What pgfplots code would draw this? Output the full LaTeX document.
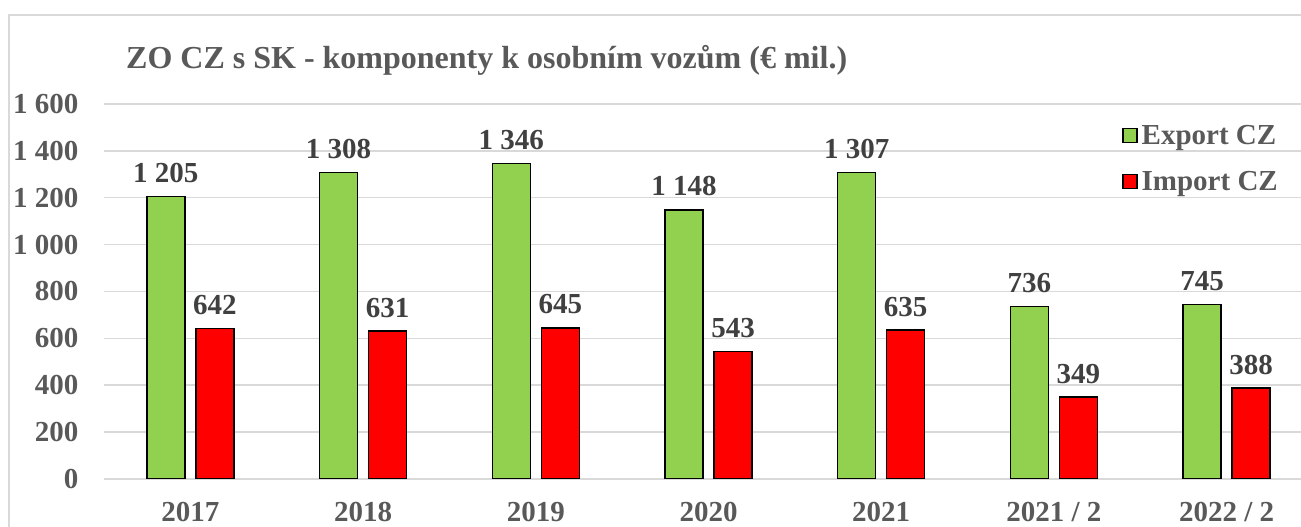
\documentclass[border=0pt]{standalone}
\usepackage{pgfplots}
\pgfplotsset{compat=1.18}
\usepackage{fontspec}
\setmainfont{Liberation Serif}
\definecolor{txtgray}{HTML}{595959}
\definecolor{lblgray}{HTML}{404040}
\definecolor{gridgray}{HTML}{D9D9D9}
\definecolor{framegray}{HTML}{D9D9D9}
\definecolor{expgreen}{HTML}{92D050}
\definecolor{impred}{HTML}{FF0000}

\begin{document}
\begin{tikzpicture}[x=1pt,y=1pt]
\useasboundingbox (0,0) rectangle (1301,527);
\clip (0,0) rectangle (1301,527);
\fill[white] (0,0) rectangle (1301,527);
\draw[framegray, line width=1.5pt] (9,-20) rectangle (1330,512);
\node[anchor=base west, text=txtgray, font=\fontsize{32}{36}\selectfont\bfseries, inner sep=0pt]
  at (126,458) {ZO CZ s SK - komponenty k osobním vozům (€ mil.)};
\begin{axis}[
  at={(104pt,48pt)}, anchor=south west,
  scale only axis, width=1209pt, height=375pt,
  ybar, bar width=38pt,
  xmin=-0.5, xmax=6.5, ymin=0, ymax=1600,
  xtick=data,
  xticklabels={2017,2018,2019,2020,2021,2021 / 2,2022 / 2},
  ytick={0,200,...,1600},
  ymajorgrids, grid style={gridgray, line width=1.5pt},
  axis line style={draw=none},
  major tick length=0pt,
  tick label style={text=txtgray, font=\fontsize{29}{32}\selectfont\bfseries},
  xticklabel style={anchor=base, yshift=-43pt},
  yticklabel style={anchor=east, xshift=-22pt},
  /pgf/number format/.cd, 1000 sep={\ }, assume math mode=true,
  /pgfplots/.cd,
  nodes near coords,
  every node near coord/.append style={text=lblgray, font=\fontsize{29}{32}\selectfont\bfseries, anchor=base, yshift=14pt},
  legend style={draw=none, fill=none, at={(0.842,0.949)}, anchor=north west,
    font=\fontsize{29}{32}\selectfont\bfseries, text=txtgray,
    row sep=21pt, inner sep=0pt, nodes={inner sep=2pt}},
  legend cell align=left,
  legend image code/.code={\draw[#1, line width=1.5pt] (0pt,-7pt) rectangle (14pt,7pt); \path (16pt,0pt);},
]
\addplot[fill=expgreen, draw=black, line width=1.5pt, bar shift=-24.5pt]
  coordinates {(0,1205)(1,1308)(2,1346)(3,1148)(4,1307)(5,736)(6,745)};
\addplot[fill=impred, draw=black, line width=1.5pt, bar shift=24.5pt]
  coordinates {(0,642)(1,631)(2,645)(3,543)(4,635)(5,349)(6,388)};
\legend{Export CZ, Import CZ}
\end{axis}
\end{tikzpicture}
\end{document}
